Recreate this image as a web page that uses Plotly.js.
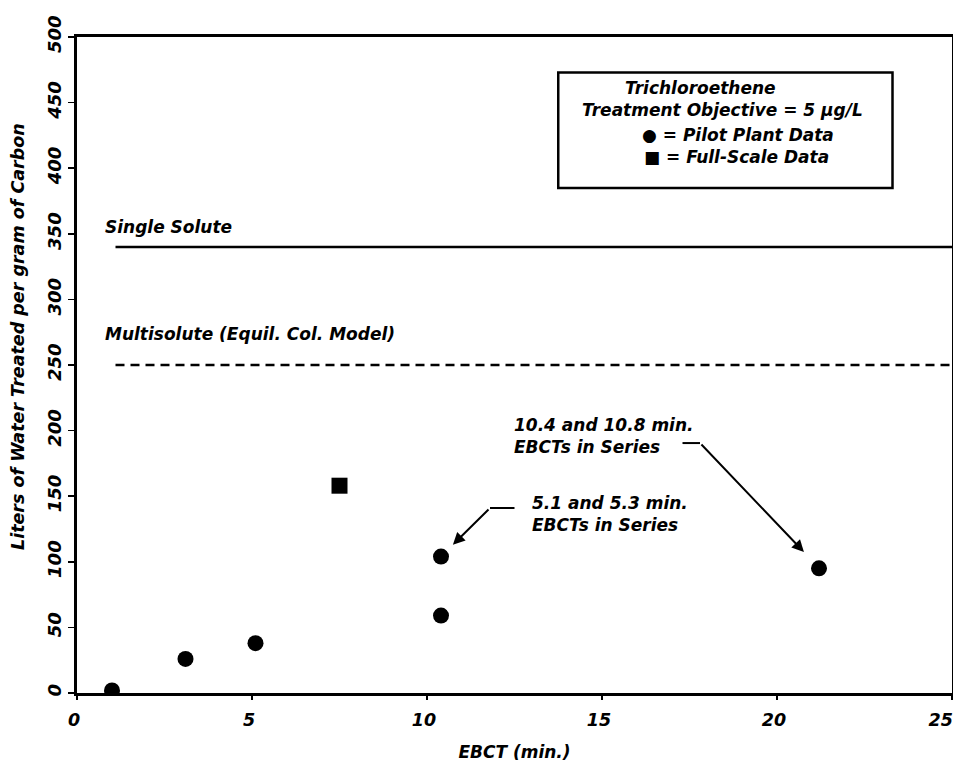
<!DOCTYPE html>
<html>
<head>
<meta charset="utf-8">
<script src="https://cdn.plot.ly/plotly-3.0.1.min.js"></script>
<style>html,body{margin:0;padding:0;background:#fff;}#chart{width:953px;height:762px;}</style>
</head>
<body>
<div id="chart"></div>
<script>
// Pilot plant data (EBCT min., L water / g carbon)
const pilotX = [1.0, 3.1, 5.1, 10.4, 10.4, 21.2];
const pilotY = [2, 26, 38, 59, 104, 95];
// Full-scale data
const fullX = [7.5];
const fullY = [158];
// Model lines
const singleX = [1.1, 25];
const singleY = [340, 340];
const multiX = [1.1, 25];
const multiY = [250, 250];
// Axis ticks
const xTicks = [0, 5, 10, 15, 20, 25];
const yTicks = [0, 50, 100, 150, 200, 250, 300, 350, 400, 450, 500];

const FONT = 'DejaVu Sans';
const txt = (s) => '<b><i>' + s + '</i></b>';
const NB = '\u00a0';
// last x label pulled inward so it stays inside the page, like the reference
const xTickText = xTicks.map((v, i) => txt(v) + (i === xTicks.length - 1 ? NB + NB + NB : ''));

const traces = [
  {x: singleX, y: singleY, mode: 'lines', line: {color: '#000', width: 2.5}, hoverinfo: 'skip'},
  {x: multiX, y: multiY, mode: 'lines', line: {color: '#000', width: 2.5, dash: '9px,6px'}, hoverinfo: 'skip'},
  {x: pilotX, y: pilotY, mode: 'markers', marker: {symbol: 'circle', size: 16, color: '#000'}},
  {x: fullX, y: fullY, mode: 'markers', marker: {symbol: 'square', size: 16, color: '#000'}}
];

const annFont = {family: FONT, size: 17, color: '#000'};
const layout = {
  width: 953, height: 762,
  margin: {l: 77, r: 1, t: 37, b: 69},
  paper_bgcolor: '#fff', plot_bgcolor: '#fff',
  showlegend: false,
  font: {family: FONT, color: '#000', size: 17},
  xaxis: {
    range: [0, 25], tickvals: xTicks, ticktext: xTickText,
    ticklabeloverflow: 'allow', ticklabelshift: -3, ticklabelstandoff: 5,
    showgrid: false, zeroline: false,
    showline: true, linecolor: '#000', linewidth: 3, mirror: true,
    ticks: 'outside', ticklen: 4, tickwidth: 1.5, tickcolor: '#000',
    tickfont: {family: FONT, size: 17.5},
    title: {text: txt('EBCT (min.)'), font: {family: FONT, size: 17}, standoff: 23}
  },
  yaxis: {
    range: [0, 500], tickvals: yTicks, ticktext: yTicks.map(v => txt(v)),
    tickangle: -90,
    showgrid: false, zeroline: false,
    showline: true, linecolor: '#000', linewidth: 3, mirror: true,
    ticks: 'outside', ticklen: 6, tickwidth: 1.5, tickcolor: '#000',
    tickfont: {family: FONT, size: 18}
  },
  shapes: [
    // legend-style info box
    {type: 'rect', xref: 'x', yref: 'y', x0: 13.75, x1: 23.3, y0: 385, y1: 473, line: {color: '#000', width: 2.5}},
    // elbow segments of the callout arrows
    {type: 'line', xref: 'x', yref: 'y', x0: 12.5, x1: 11.8, y0: 141, y1: 141, line: {color: '#000', width: 2}},
    {type: 'line', xref: 'x', yref: 'y', x0: 17.3, x1: 17.8, y0: 190.5, y1: 190.5, line: {color: '#000', width: 2}}
  ],
  annotations: [
    // y-axis title
    {xref: 'paper', yref: 'paper', x: -0.0674, y: 0.5427, xanchor: 'center', yanchor: 'middle', textangle: -90, showarrow: false,
     text: txt('Liters of Water Treated per gram of Carbon'), font: {family: FONT, size: 17.5, color: '#000'}},
    {xref: 'x', yref: 'y', x: 17.8, y: 461, text: txt('Trichloroethene'), showarrow: false, font: annFont},
    {xref: 'x', yref: 'y', x: 18.45, y: 444, text: txt('Treatment Objective = 5 µg/L'), showarrow: false, font: annFont},
    {xref: 'x', yref: 'y', x: 16.09, y: 425, xanchor: 'left', text: txt('● = Pilot Plant Data'), showarrow: false, font: annFont},
    {xref: 'x', yref: 'y', x: 16.14, y: 408.5, xanchor: 'left', text: txt('■ = Full-Scale Data'), showarrow: false, font: annFont},
    {xref: 'x', yref: 'y', x: 0.74, y: 355, xanchor: 'left', text: txt('Single Solute'), showarrow: false, font: annFont},
    {xref: 'x', yref: 'y', x: 0.74, y: 274, xanchor: 'left', text: txt('Multisolute (Equil. Col. Model)'), showarrow: false, font: annFont},
    {xref: 'x', yref: 'y', x: 12.43, y: 196, xanchor: 'left', align: 'left', text: txt('10.4 and 10.8 min.') + '<br>' + txt('EBCTs in Series'), showarrow: false, font: annFont},
    {xref: 'x', yref: 'y', x: 12.94, y: 136.4, xanchor: 'left', align: 'left', text: txt('5.1 and 5.3 min.') + '<br>' + txt('EBCTs in Series'), showarrow: false, font: annFont},
    // arrows
    {xref: 'x', yref: 'y', axref: 'x', ayref: 'y', x: 10.74, y: 113, ax: 11.8, ay: 141, text: '', showarrow: true, arrowhead: 2, arrowsize: 1.2, arrowwidth: 2, arrowcolor: '#000'},
    {xref: 'x', yref: 'y', axref: 'x', ayref: 'y', x: 20.77, y: 107.5, ax: 17.8, ay: 190.5, text: '', showarrow: true, arrowhead: 2, arrowsize: 1.2, arrowwidth: 2, arrowcolor: '#000'}
  ]
};

Plotly.newPlot('chart', traces, layout, {displayModeBar: false, staticPlot: true});
</script>
</body>
</html>
